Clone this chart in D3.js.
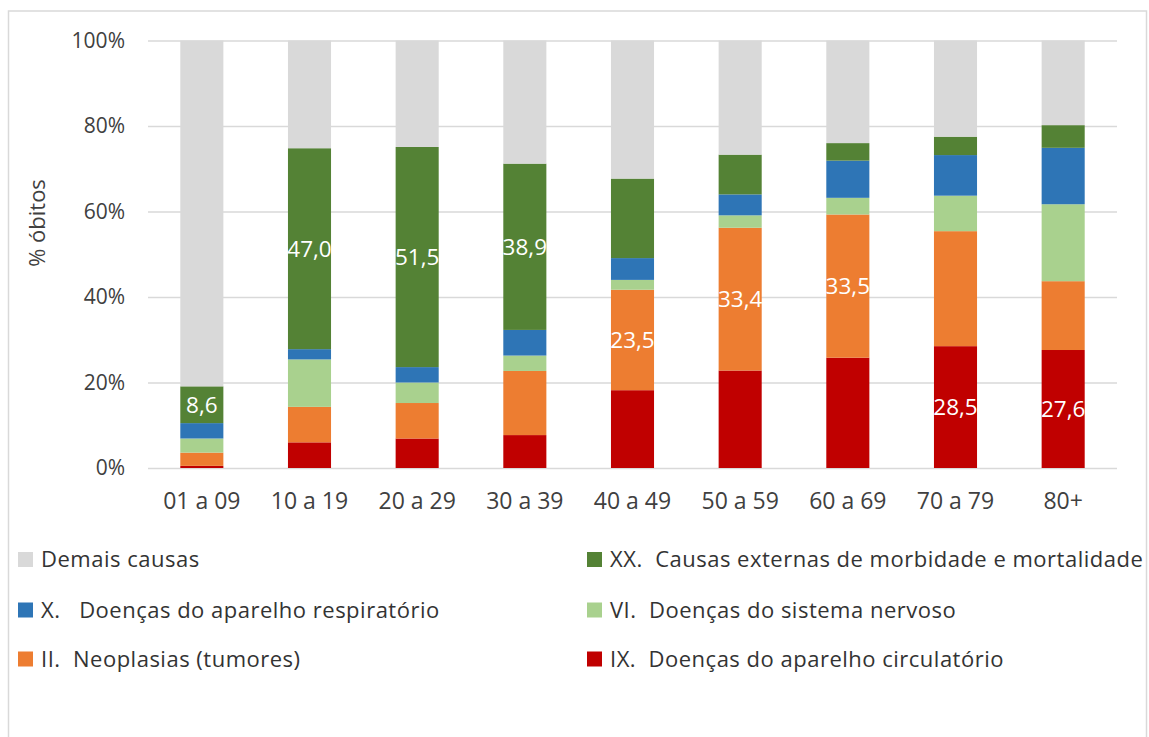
<!DOCTYPE html>
<html>
<head>
<meta charset="utf-8">
<script src="https://cdn.jsdelivr.net/npm/d3@7"></script>
<style>
  body { margin: 0; background: #fff; }
  svg text { font-family: "Open Sans", Lato, sans-serif; white-space: pre; }
</style>
</head>
<body>
<div id="chart"></div>
<script>
const categories = ["01 a 09", "10 a 19", "20 a 29", "30 a 39", "40 a 49", "50 a 59", "60 a 69", "70 a 79", "80+"];

// bottom to top
const circulatorio = [0.5, 6.0, 6.9, 7.7, 18.2, 22.8, 25.8, 28.5, 27.6];
const neoplasias   = [3.1, 8.3, 8.3, 15.0, 23.5, 33.4, 33.5, 26.9, 16.1];
const nervoso      = [3.3, 11.1, 4.8, 3.6, 2.3, 2.9, 3.9, 8.3, 18.0];
const respiratorio = [3.6, 2.4, 3.6, 6.0, 5.1, 4.9, 8.7, 9.5, 13.2];
const externas     = [8.6, 47.0, 51.5, 38.9, 18.6, 9.3, 4.1, 4.3, 5.3];
const demais       = [80.9, 25.2, 24.9, 28.8, 32.3, 26.7, 24.0, 22.5, 19.8];

const seriesNames = [
    "IX.  Doenças do aparelho circulatório",
    "II.  Neoplasias (tumores)",
    "VI.  Doenças do sistema nervoso",
    "X.   Doenças do aparelho respiratório",
    "XX.  Causas externas de morbidade e mortalidade",
    "Demais causas"
];
const seriesValues = [circulatorio, neoplasias, nervoso, respiratorio, externas, demais];
const seriesColours = ["#c00000", "#ed7d31", "#a9d18e", "#2e75b6", "#548235", "#d9d9d9"];

// which series carries the value label in each category
const labelSeries = [4, 4, 4, 4, 1, 1, 1, 0, 0];

const yTicks = [0, 20, 40, 60, 80, 100];
const legendOrder = [5, 4, 3, 2, 1, 0];

const W = 1149, H = 737;
const plotLeft = 148, plotRight = 1117, plotTop = 40.5, plotBottom = 468;
const TEXT = "#404040";

const svg = d3.select("#chart").append("svg")
    .attr("width", W)
    .attr("height", H);

svg.append("rect")
    .attr("x", 8.5).attr("y", 11)
    .attr("width", 1138).attr("height", 740)
    .attr("fill", "#fff")
    .attr("stroke", "#d9d9d9")
    .attr("stroke-width", 1.5);

const rows = categories.map((c, i) => {
    let row = { cat: c };
    seriesNames.forEach((s, k) => row[s] = seriesValues[k][i]);
    return row;
});

const stacked = d3.stack().keys(seriesNames)(rows);

const x = d3.scaleBand()
    .domain(categories)
    .range([plotLeft, plotRight])
    .paddingInner(0.6)
    .paddingOuter(0.3);

const y = d3.scaleLinear()
    .domain([0, 100])
    .range([plotBottom, plotTop]);

const yAxis = d3.axisLeft(y)
    .tickValues(yTicks)
    .tickSize(-(plotRight - plotLeft))
    .tickPadding(23)
    .tickFormat(d => d + "%");

const gy = svg.append("g")
    .attr("transform", `translate(${plotLeft},0)`)
    .call(yAxis);
gy.select(".domain").remove();
gy.selectAll(".tick line").attr("stroke", "#d9d9d9").attr("stroke-width", 1.5);
gy.selectAll(".tick text")
    .attr("fill", TEXT)
    .style("font-size", "21px");

svg.append("g")
    .selectAll("g")
    .data(stacked)
    .enter()
    .append("g")
        .attr("fill", (d, k) => seriesColours[k])
    .selectAll("rect")
    .data(d => d)
    .enter()
    .append("rect")
        .attr("x", d => x(d.data.cat))
        .attr("y", d => y(d[1]))
        .attr("width", x.bandwidth())
        .attr("height", d => y(d[0]) - y(d[1]));

const xAxis = d3.axisBottom(x).tickSize(0).tickPadding(25);
const gx = svg.append("g")
    .attr("transform", `translate(0,${plotBottom})`)
    .call(xAxis);
gx.select(".domain").remove();
gx.selectAll(".tick text")
    .attr("fill", TEXT)
    .style("font-size", "23px");

// value labels
svg.append("g")
    .selectAll("text")
    .data(categories)
    .enter()
    .append("text")
        .attr("x", c => x(c) + x.bandwidth() / 2)
        .attr("y", (c, i) => {
            let seg = stacked[labelSeries[i]][i];
            return y((seg[0] + seg[1]) / 2);
        })
        .attr("dy", "0.36em")
        .attr("text-anchor", "middle")
        .attr("fill", "#fff")
        .style("font-size", "22.5px")
        .text((c, i) => seriesValues[labelSeries[i]][i].toFixed(1).replace(".", ","));

svg.append("text")
    .attr("transform", "translate(45,223) rotate(-90)")
    .attr("text-anchor", "middle")
    .attr("fill", TEXT)
    .style("font-size", "22px")
    .text("% óbitos");

// legend
const legendCols = [18, 587];
const legendRows = [559.5, 610, 659];
const legend = svg.append("g")
    .selectAll("g")
    .data(legendOrder)
    .enter()
    .append("g")
        .attr("transform", (k, i) => `translate(${legendCols[i % 2]},${legendRows[Math.floor(i / 2)]})`);

legend.append("rect")
    .attr("x", 0).attr("y", -7.5)
    .attr("width", 15).attr("height", 15)
    .attr("fill", k => seriesColours[k]);

legend.append("text")
    .attr("x", 23)
    .attr("dy", "0.36em")
    .attr("fill", "#333")
    .style("font-size", "22px")
    .style("letter-spacing", "0.5px")
    .text(k => seriesNames[k]);
</script>
</body>
</html>
